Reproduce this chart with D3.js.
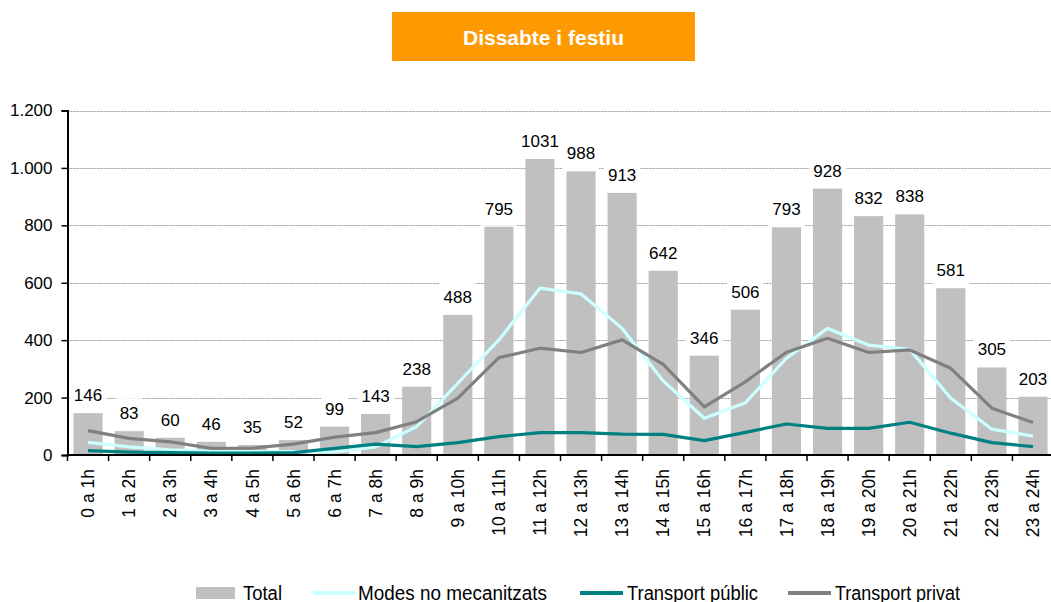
<!DOCTYPE html>
<html>
<head>
<meta charset="utf-8">
<script src="https://cdn.jsdelivr.net/npm/d3@7"></script>
<style>
  body { margin: 0; background: #fff; }
  text { font-family: "Liberation Sans", Arial, sans-serif; }
</style>
</head>
<body>
<div id="chart"></div>
<script>
// dades
const hores = ["0 a 1h", "1 a 2h", "2 a 3h", "3 a 4h", "4 a 5h", "5 a 6h", "6 a 7h", "7 a 8h",
  "8 a 9h", "9 a 10h", "10 a 11h", "11 a 12h", "12 a 13h", "13 a 14h", "14 a 15h", "15 a 16h",
  "16 a 17h", "17 a 18h", "18 a 19h", "19 a 20h", "20 a 21h", "21 a 22h", "22 a 23h", "23 a 24h"];
const total = [146, 83, 60, 46, 35, 52, 99, 143, 238, 488, 795, 1031, 988, 913, 642, 346, 506, 793, 928, 832, 838, 581, 305, 203];
const modesNoMec = [44, 28, 18, 14, 12, 12, 10, 28, 99, 250, 401, 581, 561, 441, 258, 128, 182, 337, 441, 383, 368, 198, 90, 66];
const transPublic = [15, 10, 8, 7, 7, 8, 23, 38, 29, 43, 64, 78, 78, 73, 72, 50, 79, 108, 93, 93, 114, 76, 43, 29];
const transPrivat = [85, 58, 46, 23, 24, 38, 62, 78, 116, 198, 339, 372, 357, 401, 316, 168, 255, 358, 407, 357, 366, 302, 163, 113];
const yTicks = [0, 200, 400, 600, 800, 1000, 1200];

const W = 1051, H = 602;
const mLeft = 67.5, mRight = mLeft + 986, mTop = 110.5, mBottom = 455;

const svg = d3.select("#chart").append("svg")
  .attr("width", W).attr("height", H);

const x = d3.scaleBand().domain(hores).range([mLeft, mRight])
  .paddingInner(0.29).paddingOuter(0.145);
const step = x.step();
const y = d3.scaleLinear().domain([0, 1200]).range([mBottom, mTop]);
const cx = d => x(d) + x.bandwidth() / 2;

const fmt = d3.formatLocale({ decimal: ",", thousands: ".", grouping: [3], currency: ["", "€"] }).format(",");

// títol
svg.append("rect").attr("x", 392).attr("y", 12).attr("width", 303).attr("height", 49)
  .attr("fill", "#FF9900");
svg.append("text").attr("x", 543.5).attr("y", 44.5).attr("text-anchor", "middle")
  .attr("fill", "#fff").style("font-size", "21px").style("font-weight", "bold")
  .text("Dissabte i festiu");

// graella
svg.append("g").selectAll("line").data(yTicks.filter(d => d > 0)).enter().append("line")
  .attr("x1", mLeft).attr("x2", W).attr("y1", d => Math.round(y(d)) + 0.5).attr("y2", d => Math.round(y(d)) + 0.5)
  .attr("stroke", "#999").attr("stroke-width", 1).attr("stroke-dasharray", "2,1");

// barres
svg.append("g").selectAll("rect").data(total).enter().append("rect")
  .attr("x", (d, i) => x(hores[i])).attr("width", x.bandwidth())
  .attr("y", d => y(d)).attr("height", d => mBottom - y(d))
  .attr("fill", "#C0C0C0");

// etiquetes (fons blanc)
const lab = svg.append("g").selectAll("g").data(total).enter().append("g");
lab.append("rect")
  .attr("fill", "#fff");
lab.append("text")
  .attr("x", (d, i) => cx(hores[i])).attr("y", d => y(d) - 12)
  .attr("text-anchor", "middle").style("font-size", "17px").attr("fill", "#000")
  .text(d => d);
lab.each(function () {
  const g = d3.select(this);
  const bb = g.select("text").node().getBBox();
  g.select("rect").attr("x", bb.x - 4).attr("width", bb.width + 8)
    .attr("y", +g.select("text").attr("y") - 21).attr("height", 32);
});

// línies
const line = d3.line().x((d, i) => cx(hores[i])).y(d => y(d));
const series = [
  { name: "Modes no mecanitzats", values: modesNoMec, color: "#CCFFFF" },
  { name: "Transport públic", values: transPublic, color: "#008080" },
  { name: "Transport privat", values: transPrivat, color: "#808080" }
];
series.forEach(s => {
  svg.append("path").datum(s.values).attr("d", line)
    .attr("fill", "none").attr("stroke", s.color).attr("stroke-width", 3.2)
    .attr("stroke-linejoin", "round");
});

// eix Y
const yAxis = svg.append("g").attr("transform", `translate(${mLeft},0)`)
  .call(d3.axisLeft(y).tickValues(yTicks).tickSize(6).tickPadding(9).tickFormat(fmt));
yAxis.select(".domain").attr("stroke", "#000").attr("stroke-width", 2);
yAxis.selectAll(".tick line").attr("stroke", "#000").attr("stroke-width", 1.5);
yAxis.selectAll("text").style("font-size", "17px").attr("fill", "#000")
  .style("font-family", "'Liberation Sans', Arial, sans-serif");

// eix X
const xg = svg.append("g");
xg.append("line").attr("x1", mLeft).attr("x2", W).attr("y1", mBottom).attr("y2", mBottom)
  .attr("stroke", "#000").attr("stroke-width", 2);
xg.selectAll(".tk").data(d3.range(hores.length + 1)).enter().append("line")
  .attr("x1", i => mLeft + i * step).attr("x2", i => mLeft + i * step)
  .attr("y1", mBottom).attr("y2", mBottom + 6).attr("stroke", "#000").attr("stroke-width", 1.5);
xg.selectAll(".lb").data(hores).enter().append("text")
  .attr("transform", d => `translate(${cx(d)},${mBottom + 14}) rotate(-90)`)
  .attr("text-anchor", "end").attr("dy", "0.35em")
  .style("font-size", "17.5px").attr("fill", "#000")
  .text(d => d);

// llegenda
const ly = 593, lby = 599.5;
const lg = svg.append("g");
lg.append("rect").attr("x", 196).attr("y", ly - 6).attr("width", 39).attr("height", 12).attr("fill", "#C0C0C0");
lg.append("text").attr("x", 243).attr("y", lby).attr("textLength", 39).attr("lengthAdjust", "spacingAndGlyphs")
  .style("font-size", "19.5px").text("Total");
const legItems = [
  { s: series[0], x: 313, tx: 358, w: 189 },
  { s: series[1], x: 580, tx: 627, w: 131 },
  { s: series[2], x: 788, tx: 835, w: 125 }
];
legItems.forEach(it => {
  lg.append("line").attr("x1", it.x).attr("x2", it.x + 43).attr("y1", ly).attr("y2", ly)
    .attr("stroke", it.s.color).attr("stroke-width", 4);
  lg.append("text").attr("x", it.tx).attr("y", lby).attr("textLength", it.w)
    .attr("lengthAdjust", "spacingAndGlyphs").style("font-size", "19.5px").text(it.s.name);
});
</script>
</body>
</html>
